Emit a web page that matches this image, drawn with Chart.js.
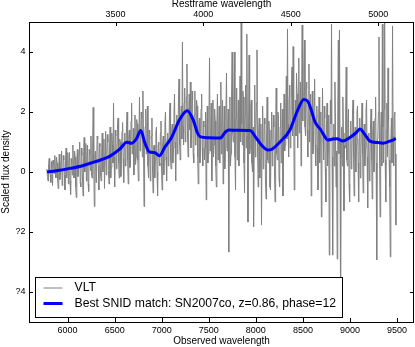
<!DOCTYPE html>
<html>
<head>
<meta charset="utf-8">
<script src="https://cdn.jsdelivr.net/npm/chart.js@4.4.1/dist/chart.umd.min.js"></script>
<style>
  html, body { margin: 0; padding: 0; background: #fff; }
  #spec { display: block; }
</style>
</head>
<body>
<canvas id="spec" width="415" height="347"></canvas>
<script>
// ---- data ----
const redshift = 0.86;
const obsTicks = [6000, 6500, 7000, 7500, 8000, 8500, 9000, 9500];
const restTicks = [3500, 4000, 4500, 5000];
const yTicks = [-4, -2, 0, 2, 4];
const yTickLabels = ['?4', '?2', '0', '2', '4'];

// VLT spectrum: regular wavelength grid (start, step) and flux values
const vltStart = 5780;
const vltStep = 6;
const vltFlux = [
  0.1, -0.15, -0.3, 0.2, 0.45, 0.05, -0.1, -0.35, 0.35, 0.15, -0.45, 0.4, 0.25, -0.05, 0.55, 0.1, -0.2, 0.5, 0.3, -0.25,
  -0.55, 0.2, 0.6, -0.25, 0.0, 0.35, 0.7, -0.45, -0.3, 0.55, 0.4, -0.1, -0.6, 0.3, 0.8, -0.2, 0.1, 0.65, -0.4, 0.25,
  0.65, -0.3, -0.75, 0.45, 0.3, -0.1, 0.9, 0.15, -0.2, 0.7, 0.5, -0.5, -0.85, 0.4, 0.75, -0.15, 0.05, 0.6, 1.0, -0.35,
  -0.5, 0.8, 0.55, -0.2, -0.8, 0.5, 1.15, 0.0, 0.2, 0.95, -0.3, 0.35, 0.9, -0.4, -0.65, 0.75, 0.6, 0.05, 1.2, -0.1,
  -0.2, 0.9, 2.15, 0.3, -1.15, 0.55, 0.7, -0.35, 0.1, 1.2, 1.1, 0.2, -0.6, 0.95, 0.85, -0.1, -0.3, 0.7, 1.3, 0.0,
  0.2, 1.1, -0.55, 0.6, 1.35, -0.1, 0.4, 1.25, 1.0, 0.05, -0.4, 0.8, 1.5, -0.2, 0.15, 1.3, 0.9, 0.3, 2.3, 0.5,
  -0.5, 1.4, 1.2, 0.1, 0.4, 1.5, 1.8, 0.3, -0.2, 1.1, 1.0, -0.15, 0.5, 1.35, 1.65, 0.45, -0.35, 1.0, 1.3, 0.2,
  0.6, 1.55, 2.0, 0.4, -0.4, 1.2, 1.4, 0.15, 0.3, 1.7, 2.3, 0.6, 0.8, 1.45, -0.1, 1.1, 1.9, 0.25, 0.5, 1.75,
  1.6, 0.4, -0.3, 1.3, 2.5, 0.7, 0.9, 2.0, 1.8, 0.5, 2.7, 1.1, -1.15, 0.9, 1.5, 2.1, 0.6, 1.3, 2.2, 0.2,
  -0.2, 1.4, 1.1, -0.3, 0.3, 1.2, 1.8, 0.1, -0.7, 0.8, 0.9, -0.2, 0.4, 1.3, 1.5, 0.0, -0.8, 0.9, 1.0, 0.3,
  0.2, 1.3, 1.7, 0.1, -0.6, 0.9, 1.2, -0.1, 0.4, 1.6, 2.0, 0.5, -0.3, 1.1, 1.3, 0.2, 0.7, 1.8, 2.3, 0.4,
  0.1, 1.4, 1.6, 0.3, 0.8, 2.0, 2.6, 1.0, -0.3, 1.5, 1.9, 0.6, 1.0, 2.4, 3.1, 0.9, 0.4, 1.8, 2.2, 1.1,
  4.33, 1.5, 0.9, 2.3, 2.8, 1.0, 1.4, 2.5, 3.6, 1.2, 0.5, 2.0, 2.6, 1.4, 3.0, 0.8, 1.1, 2.7, 2.4, 0.6,
  0.3, 1.9, 2.7, 0.9, 1.0, 2.4, 2.2, 0.5, -0.4, 1.6, 1.8, 0.3, 0.7, 2.1, 2.6, 0.8, 0.2, 1.7, 1.5, 0.4,
  0.8, 2.0, -0.93, 1.4, 2.2, 0.3, 0.6, 1.9, 3.8, 0.7, 1.2, 2.3, -0.3, 1.0, 2.4, 0.5, 0.9, 2.1, 1.7, 0.2,
  -0.5, 1.6, 2.6, 0.4, 1.1, 2.2, 0.3, 1.5, 3.0, 0.6, 1.5, 2.4, -0.4, 1.2, 2.2, 0.1, 0.8, 2.0, 3.3, 0.7,
  1.3, 2.1, -2.67, 1.0, 2.5, 0.2, 0.6, 2.6, 4.0, 1.3, 1.0, 2.3, 4.0, 0.5, -0.6, 1.8, 2.8, 0.4, 1.6, 2.4,
  0.2, 1.5, 3.2, 1.0, 5.4, 1.6, 0.9, 2.7, 2.5, 0.3, -0.7, 1.9, 2.9, 0.8, 4.6, 1.2, -1.67, 1.4, 3.9, 0.6,
  0.8, 2.2, 2.4, 0.3, 0.0, 1.5, -1.83, 1.2, 2.9, 0.5, 1.2, 2.3, 4.07, 0.7, -0.5, 1.4, 1.8, -0.2, 0.4, 1.6,
  -1.77, 1.0, 2.2, 0.1, 0.5, 1.8, 1.6, -0.3, -0.9, 1.2, 2.5, 0.4, 0.3, 1.7, 1.4, -0.5, -0.6, 1.1, 2.0, 0.2,
  0.6, 1.9, 1.5, 0.0, -1.0, 1.3, 2.8, 0.6, 0.4, 2.0, 1.9, -0.2, -0.5, 1.5, 2.3, 0.3, 1.1, 2.1, -0.8, 0.9,
  2.6, 0.7, 0.9, 2.2, 3.2, 1.1, 4.77, 1.6, 0.5, 2.5, 2.9, 0.8, 1.4, 2.8, 3.5, 1.2, 4.18, 1.9, -0.6, 1.5,
  2.4, 1.2, 3.3, 2.6, 0.8, 2.0, 3.8, 1.3, 1.9, 3.0, 0.2, 2.2, 4.9, 1.7, 2.6, 3.4, 4.4, 1.5, 1.2, 2.8,
  3.0, 1.4, 0.5, 2.3, 3.6, 1.0, 1.9, 2.6, -0.8, 1.5, 2.7, 0.6, 1.0, 2.2, 3.1, 0.9, 0.2, 1.8, 2.2, 0.8,
  -0.6, 1.6, 2.5, 0.3, 1.0, 2.0, -1.5, 0.8, 2.8, 1.3, 0.4, 2.2, 1.8, 0.1, -1.0, 1.5, 2.3, 0.2, 0.7, 1.9,
  -2.77, 0.9, 2.4, 1.6, 4.93, 0.5, -2.77, 1.2, 1.6, 0.2, 3.0, 1.4, -0.5, 0.7, -2.9, 1.8, 4.4, 0.6, 4.73, 1.1,
  -4.6, 0.5, 1.5, 0.2, 2.5, 1.3, -1.3, 0.9, 0.8, 2.0, 3.5, 0.4, 0.2, 1.6, 2.1, -0.4, -1.0, 1.2, 1.7, 0.1,
  0.4, 1.9, 2.4, 0.5, -0.8, 1.3, 1.5, 0.0, 0.9, 2.0, 2.2, 0.3, -1.0, 1.1, 1.8, -0.2, 0.5, 1.6, 2.3, 0.6,
  -0.7, 1.2, 1.6, 0.2, 0.8, 2.0, 2.4, 0.5, -1.2, 1.0, 1.3, -0.3, 0.2, 1.5, 2.1, 0.4, -0.9, 1.3, 1.7, 0.0,
  0.6, 1.8, 2.5, 0.3, -2.93, 1.1, 1.2, 2.0, 4.5, 0.6, -1.5, 1.3, 2.0, 0.2, 4.93, 1.5, 0.3, 2.1, 5.3, 0.4,
  -1.0, 1.4, 2.3, 0.5, 3.47, 1.7, 0.4, -0.5, -2.83, 1.0, 1.8, 0.3, 4.87, 1.2, 0.2, 1.9, 2.0, 0.6, -1.77
];

// SNID template (SN2007co)
const snidWave = [5782, 5900, 6026, 6150, 6239, 6350, 6451, 6557, 6628, 6681,
  6730, 6777, 6822, 6868, 6929, 6974, 7035, 7106, 7187, 7272,
  7335, 7380, 7406, 7500, 7619, 7682, 7714, 7800, 7937, 8011,
  8065, 8128, 8171, 8256, 8362, 8436, 8510, 8553, 8595, 8627,
  8691, 8765, 8818, 8861, 8924, 8999, 9062, 9105, 9158, 9211,
  9296, 9349, 9423, 9487];
const snidFlux = [0.0, 0.05, 0.12, 0.2, 0.29, 0.4, 0.53, 0.77, 0.99, 0.96,
  1.1, 1.38, 0.96, 0.67, 0.64, 0.54, 0.84, 1.16, 1.73, 2.04,
  1.73, 1.3, 1.18, 1.14, 1.13, 1.35, 1.4, 1.39, 1.38, 1.1,
  0.88, 0.73, 0.76, 1.0, 1.4, 2.0, 2.42, 2.35, 2.0, 1.68,
  1.4, 1.07, 1.1, 1.11, 1.03, 1.15, 1.3, 1.43, 1.25, 1.03,
  0.98, 0.96, 1.03, 1.11];

const xMin = 5590, xMax = 9680;

// ---- plugins ----
// matplotlib-like frame with inward tick marks
const frameTicks = {
  id: 'frameTicks',
  afterDatasetsDraw(chart) {
    const { ctx, chartArea: a, scales } = chart;
    ctx.save();
    ctx.strokeStyle = '#000';
    ctx.lineWidth = 1;
    ctx.beginPath();
    obsTicks.forEach(v => {
      const px = Math.round(scales.x.getPixelForValue(v)) + 0.5;
      ctx.moveTo(px, a.bottom); ctx.lineTo(px, a.bottom - 4);
    });
    restTicks.forEach(v => {
      const px = Math.round(scales.xRest.getPixelForValue(v)) + 0.5;
      ctx.moveTo(px, a.top); ctx.lineTo(px, a.top + 4);
    });
    yTicks.forEach(v => {
      const py = Math.round(scales.y.getPixelForValue(v)) + 0.5;
      ctx.moveTo(a.left, py); ctx.lineTo(a.left + 4, py);
      ctx.moveTo(a.right, py); ctx.lineTo(a.right - 4, py);
    });
    ctx.stroke();
    ctx.strokeRect(Math.round(a.left) + 0.5, Math.round(a.top) + 0.5,
      Math.round(a.right - a.left) - 1, Math.round(a.bottom - a.top));
    ctx.restore();
  }
};

// legend boxed inside the lower left of the plot
const insideLegend = {
  id: 'insideLegend',
  afterDraw(chart) {
    const { ctx, chartArea: a } = chart;
    const bx = Math.round(a.left) + 6.5, by = Math.round(a.bottom) - 44.5;
    const bw = 307, bh = 40;
    ctx.save();
    ctx.fillStyle = '#fff';
    ctx.fillRect(bx, by, bw, bh);
    ctx.strokeStyle = '#000';
    ctx.lineWidth = 1;
    ctx.strokeRect(bx, by, bw, bh);
    ctx.font = '12.2px "Liberation Sans", Arial, sans-serif';
    ctx.textBaseline = 'middle';
    ctx.fillStyle = '#000';
    const rows = [1, 0]; // VLT first, then SNID
    rows.forEach((di, r) => {
      const ds = chart.data.datasets[di];
      const cy = by + 10.5 + r * 15.5;
      ctx.strokeStyle = ds.borderColor;
      ctx.lineWidth = ds.borderWidth;
      ctx.beginPath();
      ctx.moveTo(bx + 8, cy); ctx.lineTo(bx + 27, cy);
      ctx.stroke();
      ctx.fillText(ds.label, bx + 39, cy);
    });
    ctx.restore();
  }
};

const tickFont = { family: '"Liberation Sans Narrow", "Arial Narrow", "Liberation Sans", sans-serif', size: 9 };
const titleFont = { family: '"Liberation Sans", Arial, sans-serif', size: 10 };

const config = {
  type: 'line',
  data: {
    datasets: [
      {
        label: 'Best SNID match: SN2007co, z=0.86, phase=12',
        data: snidWave.map((w, i) => ({ x: w, y: snidFlux[i] })),
        borderColor: '#0000ff',
        borderWidth: 3,
        pointRadius: 0,
        cubicInterpolationMode: 'monotone',
        order: 1
      },
      {
        label: 'VLT',
        data: vltFlux.map((f, i) => ({ x: vltStart + i * vltStep, y: f })),
        borderColor: '#808080',
        borderWidth: 1,
        pointRadius: 0,
        tension: 0,
        order: 2
      }
    ]
  },
  options: {
    responsive: false,
    animation: false,
    devicePixelRatio: 1,
    layout: { padding: { left: 0, right: 1, top: 0, bottom: 0 } },
    plugins: { legend: { display: false }, tooltip: { enabled: false } },
    scales: {
      x: {
        type: 'linear', position: 'bottom', min: xMin, max: xMax,
        grid: { display: false, drawTicks: false }, border: { display: false },
        afterBuildTicks: s => { s.ticks = obsTicks.map(v => ({ value: v })); },
        afterFit: s => { s.height = 25; },
        ticks: { font: tickFont, color: '#000', padding: 3, maxRotation: 0, autoSkip: false,
          callback: v => String(v) },
        title: { display: true, text: 'Observed wavelength', font: titleFont, color: '#000', padding: 0 }
      },
      xRest: {
        type: 'linear', position: 'top', min: xMin / (1 + redshift), max: xMax / (1 + redshift),
        grid: { display: false, drawTicks: false }, border: { display: false },
        afterBuildTicks: s => { s.ticks = restTicks.map(v => ({ value: v })); },
        afterFit: s => { s.height = 22; },
        ticks: { font: tickFont, color: '#000', padding: 2, maxRotation: 0, autoSkip: false,
          callback: v => String(v) },
        title: { display: true, text: 'Restframe wavelength', font: { ...titleFont, lineHeight: 0.9 }, color: '#000', padding: 0 }
      },
      y: {
        type: 'linear', position: 'left', min: -5, max: 5,
        grid: { display: false, drawTicks: false }, border: { display: false },
        afterBuildTicks: s => { s.ticks = yTicks.map(v => ({ value: v })); },
        afterFit: s => { s.width = 29; },
        ticks: { font: tickFont, color: '#000', padding: 3.5,
          callback: v => yTickLabels[yTicks.indexOf(v)] },
        title: { display: true, text: 'Scaled flux density', font: titleFont, color: '#000', padding: 0 }
      }
    }
  },
  plugins: [frameTicks, insideLegend]
};

const specChart = new Chart(document.getElementById('spec').getContext('2d'), config);
</script>
</body>
</html>
